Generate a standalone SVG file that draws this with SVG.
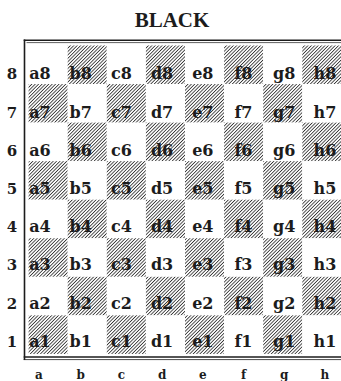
<svg xmlns="http://www.w3.org/2000/svg" width="341" height="381" viewBox="0 0 341 381">
<defs>
<pattern id="hatch" patternUnits="userSpaceOnUse" width="2.4" height="2.4" patternTransform="rotate(45)">
<rect x="0" y="0" width="0.85" height="2.4" fill="#333333"/>
</pattern>
<style>
.d{fill:url(#hatch)}
.l{fill:#ffffff}
.t{font-family:"DejaVu Serif","Liberation Serif",serif;font-weight:bold;font-size:16px;fill:#1c1c1c;text-anchor:middle}
.r{font-family:"DejaVu Serif","Liberation Serif",serif;font-weight:bold;font-size:15px;fill:#1c1c1c;text-anchor:middle}
.f{font-family:"DejaVu Serif","Liberation Serif",serif;font-weight:bold;font-size:12px;fill:#1c1c1c;text-anchor:middle}
.ttl{font-family:"Liberation Serif","Times New Roman",serif;font-weight:bold;font-size:21px;fill:#1c1c1c;text-anchor:middle}
.frame{stroke:#1c1c1c;fill:none}
</style>
</defs>
<rect width="341" height="381" fill="#ffffff"/>
<text class="ttl" x="172" y="27.3">BLACK</text>
<g id="board">
<g id="a8"><rect class="l" x="28.6" y="45.5" width="39.1" height="38.6"/><text class="t" x="40" y="79.3">a8</text></g>
<g id="b8"><rect class="d" x="67.7" y="45.5" width="39.1" height="38.6"/><text class="t" x="80.7" y="79.3">b8</text></g>
<g id="c8"><rect class="l" x="106.8" y="45.5" width="39.1" height="38.6"/><text class="t" x="121.4" y="79.3">c8</text></g>
<g id="d8"><rect class="d" x="145.9" y="45.5" width="39.1" height="38.6"/><text class="t" x="162.1" y="79.3">d8</text></g>
<g id="e8"><rect class="l" x="185" y="45.5" width="39.1" height="38.6"/><text class="t" x="202.8" y="79.3">e8</text></g>
<g id="f8"><rect class="d" x="224.1" y="45.5" width="39.1" height="38.6"/><text class="t" x="243.5" y="79.3">f8</text></g>
<g id="g8"><rect class="l" x="263.2" y="45.5" width="39.1" height="38.6"/><text class="t" x="284.2" y="79.3">g8</text></g>
<g id="h8"><rect class="d" x="302.3" y="45.5" width="39.1" height="38.6"/><text class="t" x="324.9" y="79.3">h8</text></g>

<g id="a7"><rect class="d" x="28.6" y="84.05" width="39.1" height="38.6"/><text class="t" x="40" y="117.5">a7</text></g>
<g id="b7"><rect class="l" x="67.7" y="84.05" width="39.1" height="38.6"/><text class="t" x="80.7" y="117.5">b7</text></g>
<g id="c7"><rect class="d" x="106.8" y="84.05" width="39.1" height="38.6"/><text class="t" x="121.4" y="117.5">c7</text></g>
<g id="d7"><rect class="l" x="145.9" y="84.05" width="39.1" height="38.6"/><text class="t" x="162.1" y="117.5">d7</text></g>
<g id="e7"><rect class="d" x="185" y="84.05" width="39.1" height="38.6"/><text class="t" x="202.8" y="117.5">e7</text></g>
<g id="f7"><rect class="l" x="224.1" y="84.05" width="39.1" height="38.6"/><text class="t" x="243.5" y="117.5">f7</text></g>
<g id="g7"><rect class="d" x="263.2" y="84.05" width="39.1" height="38.6"/><text class="t" x="284.2" y="117.5">g7</text></g>
<g id="h7"><rect class="l" x="302.3" y="84.05" width="39.1" height="38.6"/><text class="t" x="324.9" y="117.5">h7</text></g>

<g id="a6"><rect class="l" x="28.6" y="122.6" width="39.1" height="38.6"/><text class="t" x="40" y="155.7">a6</text></g>
<g id="b6"><rect class="d" x="67.7" y="122.6" width="39.1" height="38.6"/><text class="t" x="80.7" y="155.7">b6</text></g>
<g id="c6"><rect class="l" x="106.8" y="122.6" width="39.1" height="38.6"/><text class="t" x="121.4" y="155.7">c6</text></g>
<g id="d6"><rect class="d" x="145.9" y="122.6" width="39.1" height="38.6"/><text class="t" x="162.1" y="155.7">d6</text></g>
<g id="e6"><rect class="l" x="185" y="122.6" width="39.1" height="38.6"/><text class="t" x="202.8" y="155.7">e6</text></g>
<g id="f6"><rect class="d" x="224.1" y="122.6" width="39.1" height="38.6"/><text class="t" x="243.5" y="155.7">f6</text></g>
<g id="g6"><rect class="l" x="263.2" y="122.6" width="39.1" height="38.6"/><text class="t" x="284.2" y="155.7">g6</text></g>
<g id="h6"><rect class="d" x="302.3" y="122.6" width="39.1" height="38.6"/><text class="t" x="324.9" y="155.7">h6</text></g>

<g id="a5"><rect class="d" x="28.6" y="161.15" width="39.1" height="38.6"/><text class="t" x="40" y="193.9">a5</text></g>
<g id="b5"><rect class="l" x="67.7" y="161.15" width="39.1" height="38.6"/><text class="t" x="80.7" y="193.9">b5</text></g>
<g id="c5"><rect class="d" x="106.8" y="161.15" width="39.1" height="38.6"/><text class="t" x="121.4" y="193.9">c5</text></g>
<g id="d5"><rect class="l" x="145.9" y="161.15" width="39.1" height="38.6"/><text class="t" x="162.1" y="193.9">d5</text></g>
<g id="e5"><rect class="d" x="185" y="161.15" width="39.1" height="38.6"/><text class="t" x="202.8" y="193.9">e5</text></g>
<g id="f5"><rect class="l" x="224.1" y="161.15" width="39.1" height="38.6"/><text class="t" x="243.5" y="193.9">f5</text></g>
<g id="g5"><rect class="d" x="263.2" y="161.15" width="39.1" height="38.6"/><text class="t" x="284.2" y="193.9">g5</text></g>
<g id="h5"><rect class="l" x="302.3" y="161.15" width="39.1" height="38.6"/><text class="t" x="324.9" y="193.9">h5</text></g>

<g id="a4"><rect class="l" x="28.6" y="199.7" width="39.1" height="38.6"/><text class="t" x="40" y="232.1">a4</text></g>
<g id="b4"><rect class="d" x="67.7" y="199.7" width="39.1" height="38.6"/><text class="t" x="80.7" y="232.1">b4</text></g>
<g id="c4"><rect class="l" x="106.8" y="199.7" width="39.1" height="38.6"/><text class="t" x="121.4" y="232.1">c4</text></g>
<g id="d4"><rect class="d" x="145.9" y="199.7" width="39.1" height="38.6"/><text class="t" x="162.1" y="232.1">d4</text></g>
<g id="e4"><rect class="l" x="185" y="199.7" width="39.1" height="38.6"/><text class="t" x="202.8" y="232.1">e4</text></g>
<g id="f4"><rect class="d" x="224.1" y="199.7" width="39.1" height="38.6"/><text class="t" x="243.5" y="232.1">f4</text></g>
<g id="g4"><rect class="l" x="263.2" y="199.7" width="39.1" height="38.6"/><text class="t" x="284.2" y="232.1">g4</text></g>
<g id="h4"><rect class="d" x="302.3" y="199.7" width="39.1" height="38.6"/><text class="t" x="324.9" y="232.1">h4</text></g>

<g id="a3"><rect class="d" x="28.6" y="238.25" width="39.1" height="38.6"/><text class="t" x="40" y="270.3">a3</text></g>
<g id="b3"><rect class="l" x="67.7" y="238.25" width="39.1" height="38.6"/><text class="t" x="80.7" y="270.3">b3</text></g>
<g id="c3"><rect class="d" x="106.8" y="238.25" width="39.1" height="38.6"/><text class="t" x="121.4" y="270.3">c3</text></g>
<g id="d3"><rect class="l" x="145.9" y="238.25" width="39.1" height="38.6"/><text class="t" x="162.1" y="270.3">d3</text></g>
<g id="e3"><rect class="d" x="185" y="238.25" width="39.1" height="38.6"/><text class="t" x="202.8" y="270.3">e3</text></g>
<g id="f3"><rect class="l" x="224.1" y="238.25" width="39.1" height="38.6"/><text class="t" x="243.5" y="270.3">f3</text></g>
<g id="g3"><rect class="d" x="263.2" y="238.25" width="39.1" height="38.6"/><text class="t" x="284.2" y="270.3">g3</text></g>
<g id="h3"><rect class="l" x="302.3" y="238.25" width="39.1" height="38.6"/><text class="t" x="324.9" y="270.3">h3</text></g>

<g id="a2"><rect class="l" x="28.6" y="276.8" width="39.1" height="38.6"/><text class="t" x="40" y="308.5">a2</text></g>
<g id="b2"><rect class="d" x="67.7" y="276.8" width="39.1" height="38.6"/><text class="t" x="80.7" y="308.5">b2</text></g>
<g id="c2"><rect class="l" x="106.8" y="276.8" width="39.1" height="38.6"/><text class="t" x="121.4" y="308.5">c2</text></g>
<g id="d2"><rect class="d" x="145.9" y="276.8" width="39.1" height="38.6"/><text class="t" x="162.1" y="308.5">d2</text></g>
<g id="e2"><rect class="l" x="185" y="276.8" width="39.1" height="38.6"/><text class="t" x="202.8" y="308.5">e2</text></g>
<g id="f2"><rect class="d" x="224.1" y="276.8" width="39.1" height="38.6"/><text class="t" x="243.5" y="308.5">f2</text></g>
<g id="g2"><rect class="l" x="263.2" y="276.8" width="39.1" height="38.6"/><text class="t" x="284.2" y="308.5">g2</text></g>
<g id="h2"><rect class="d" x="302.3" y="276.8" width="39.1" height="38.6"/><text class="t" x="324.9" y="308.5">h2</text></g>

<g id="a1"><rect class="d" x="28.6" y="315.35" width="39.1" height="38.6"/><text class="t" x="40" y="346.7">a1</text></g>
<g id="b1"><rect class="l" x="67.7" y="315.35" width="39.1" height="38.6"/><text class="t" x="80.7" y="346.7">b1</text></g>
<g id="c1"><rect class="d" x="106.8" y="315.35" width="39.1" height="38.6"/><text class="t" x="121.4" y="346.7">c1</text></g>
<g id="d1"><rect class="l" x="145.9" y="315.35" width="39.1" height="38.6"/><text class="t" x="162.1" y="346.7">d1</text></g>
<g id="e1"><rect class="d" x="185" y="315.35" width="39.1" height="38.6"/><text class="t" x="202.8" y="346.7">e1</text></g>
<g id="f1"><rect class="l" x="224.1" y="315.35" width="39.1" height="38.6"/><text class="t" x="243.5" y="346.7">f1</text></g>
<g id="g1"><rect class="d" x="263.2" y="315.35" width="39.1" height="38.6"/><text class="t" x="284.2" y="346.7">g1</text></g>
<g id="h1"><rect class="l" x="302.3" y="315.35" width="39.1" height="38.6"/><text class="t" x="324.9" y="346.7">h1</text></g>
</g>
<g id="frame">
<line class="frame" x1="23.7" y1="40.3" x2="341" y2="40.3" stroke-width="1.6"/>
<line class="frame" x1="26.5" y1="42.6" x2="341" y2="42.6" stroke-width="0.7"/>
<line class="frame" x1="24.5" y1="39.5" x2="24.5" y2="360" stroke-width="1.6"/>
<line class="frame" x1="23.7" y1="357" x2="341" y2="357" stroke-width="1.4"/>
<line class="frame" x1="23.7" y1="359.6" x2="341" y2="359.6" stroke-width="0.8"/>
</g>
<g id="ranks">
<text class="r" x="12" y="79.3">8</text>
<text class="r" x="12" y="117.5">7</text>
<text class="r" x="12" y="155.7">6</text>
<text class="r" x="12" y="193.9">5</text>
<text class="r" x="12" y="232.1">4</text>
<text class="r" x="12" y="270.3">3</text>
<text class="r" x="12" y="308.5">2</text>
<text class="r" x="12" y="346.7">1</text>
</g>
<g id="files">
<text class="f" x="39" y="378.5">a</text>
<text class="f" x="80.7" y="378.5">b</text>
<text class="f" x="121.4" y="378.5">c</text>
<text class="f" x="162.1" y="378.5">d</text>
<text class="f" x="202.8" y="378.5">e</text>
<text class="f" x="243.5" y="378.5">f</text>
<text class="f" x="284.2" y="378.5">g</text>
<text class="f" x="324.9" y="378.5">h</text>
</g>
</svg>
